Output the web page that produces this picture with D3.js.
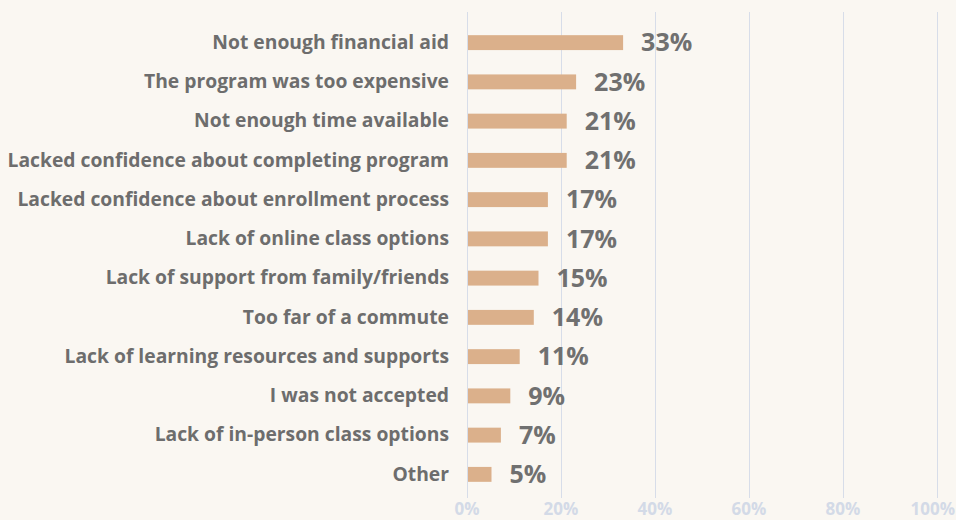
<!DOCTYPE html>
<html>
<head>
<meta charset="utf-8">
<script src="https://cdn.jsdelivr.net/npm/d3@7"></script>
<style>
  html, body { margin: 0; padding: 0; background: #faf7f2; }
  svg { display: block; }
</style>
</head>
<body>
<div id="chart"></div>
<script>
var reasons = [
    "Not enough financial aid",
    "The program was too expensive",
    "Not enough time available",
    "Lacked confidence about completing program",
    "Lacked confidence about enrollment process",
    "Lack of online class options",
    "Lack of support from family/friends",
    "Too far of a commute",
    "Lack of learning resources and supports",
    "I was not accepted",
    "Lack of in-person class options",
    "Other"
];
var shares = [33, 23, 21, 21, 17, 17, 15, 14, 11, 9, 7, 5];
var ticks = [0, 20, 40, 60, 80, 100];

var width = 956, height = 520;

var svg = d3.select("#chart")
    .append("svg")
    .attr("width", width)
    .attr("height", height);

svg.append("rect")
    .attr("width", width)
    .attr("height", height)
    .attr("fill", "#faf7f2");

var x = d3.scaleLinear().domain([0, 100]).range([467, 937]);
var y = d3.scaleBand().domain(reasons).range([23, 494]).paddingInner(0.62).paddingOuter(0.31);

// gridlines
svg.selectAll("line.grid")
    .data(ticks)
    .enter()
    .append("line")
    .attr("class", "grid")
    .attr("x1", function(d) { return Math.round(x(d)) + 0.5; })
    .attr("x2", function(d) { return Math.round(x(d)) + 0.5; })
    .attr("y1", 12)
    .attr("y2", 498)
    .attr("stroke", "#d7dde9")
    .attr("stroke-width", 1);

// bottom tick labels, kept inside the right edge
svg.selectAll("text.tick")
    .data(ticks)
    .enter()
    .append("text")
    .attr("class", "tick")
    .attr("x", function(d) { return x(d); })
    .attr("y", 515)
    .attr("text-anchor", "middle")
    .attr("font-family", "'Open Sans', sans-serif")
    .attr("font-weight", 700)
    .attr("font-size", 17)
    .attr("fill", "#d3dae7")
    .text(function(d) { return d + "%"; })
    .each(function() {
        var b = this.getBBox();
        if (b.x + b.width > width - 1) {
            d3.select(this).attr("x", +d3.select(this).attr("x") - (b.x + b.width - width + 1));
        }
    });

var rows = reasons.map(function(r, i) { return { label: r, value: shares[i] }; });

svg.selectAll("rect.bar")
    .data(rows)
    .enter()
    .append("rect")
    .attr("class", "bar")
    .attr("x", x(0) + 1)
    .attr("y", function(d) { return y(d.label); })
    .attr("width", function(d) { return x(d.value) - x(0); })
    .attr("height", y.bandwidth())
    .attr("fill", "#dbb08b");

svg.selectAll("text.cat")
    .data(rows)
    .enter()
    .append("text")
    .attr("class", "cat")
    .attr("x", 449)
    .attr("y", function(d) { return y(d.label) + y.bandwidth() / 2; })
    .attr("dy", "0.33em")
    .attr("text-anchor", "end")
    .attr("font-family", "'Open Sans', sans-serif")
    .attr("font-weight", 700)
    .attr("font-size", 19.3)
    .attr("fill", "#6d6d6d")
    .text(function(d) { return d.label; });

svg.selectAll("text.val")
    .data(rows)
    .enter()
    .append("text")
    .attr("class", "val")
    .attr("x", function(d) { return x(d.value) + 19; })
    .attr("y", function(d) { return y(d.label) + y.bandwidth() / 2; })
    .attr("dy", "0.35em")
    .attr("font-family", "'Open Sans', sans-serif")
    .attr("font-weight", 700)
    .attr("font-size", 25)
    .attr("fill", "#707070")
    .text(function(d) { return d.value + "%"; });
</script>
</body>
</html>
